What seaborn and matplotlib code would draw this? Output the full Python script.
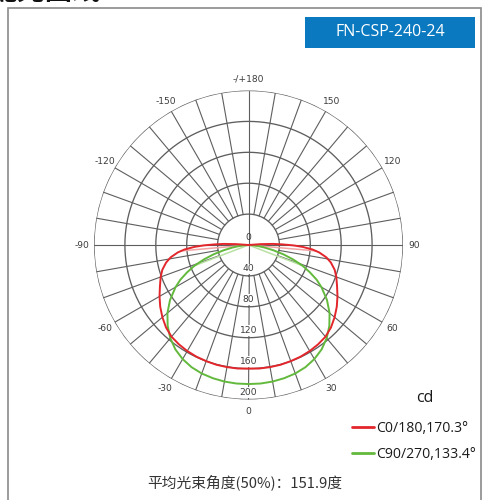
import numpy as np
import matplotlib
matplotlib.use("Agg")
import matplotlib.pyplot as plt
import seaborn as sns
from matplotlib.patches import Rectangle

# Luminous intensity distribution (gamma angle from nadir in degrees, intensity in cd)
c0_gamma = [0, 5, 10, 15, 20, 25, 30, 35, 40, 45, 50, 55, 60, 65, 70, 74, 78,
            81, 84, 86, 88, 89.5, 91, 92.5, 94, 95]
c0_cd = [160, 160.5, 160.5, 160.5, 160, 159.5, 158.5, 157, 155, 151, 145.5,
         139.5, 133, 126.5, 121, 116, 109, 102, 92, 83, 70, 58, 44, 32, 16, 0]

c90_gamma = [0, 5, 10, 15, 20, 25, 30, 35, 40, 45, 50, 55, 60, 63, 66, 69, 72,
             75, 78, 81, 84, 87, 90]
c90_cd = [180, 180, 179.5, 178.5, 177, 174.5, 170.5, 165, 157.5, 148, 137, 124,
          109, 99, 87, 75, 61, 47, 33, 21, 12, 5, 0]

# gamma angles where the opposite half-planes drop out
c0_cut = 85
c90_cut = 69

series_labels = ["C0/180,170.3°", "C90/270,133.4°"]
ring_values = [40, 80, 120, 160, 200]
angle_ticks = [0, 30, 60, 90, 120, 150, 180, -150, -120, -90, -60, -30]
angle_tick_labels = ["0", "30", "60", "90", "120", "150", "-/+180",
                     "-150", "-120", "-90", "-60", "-30"]

model_name = "FN-CSP-240-24"
beam_text = "平均光束角度(50%)：151.9度"
heading = "配光曲线"

RED = "#e3262b"
GREEN = "#62b93c"
PINK = "#f2a3a3"
LIGHT_GREEN = "#b9e1a3"
GRID = "#5e5e5e"

sns.set_theme(style="white")
plt.rcParams["font.family"] = ["Open Sans", "Noto Sans CJK SC", "DejaVu Sans"]

W, H = 483, 500
fig = plt.figure(figsize=(W / 100, H / 100), dpi=100)
fig.patch.set_facecolor("white")

# polar axes: centre at (248.5, 245) px, radius 154.5 px
cx, cy, rad = 248.5, 245.0, 154.5
ax = fig.add_axes([(cx - rad) / W, 1 - (cy + rad) / H, 2 * rad / W, 2 * rad / H],
                  projection="polar")
ax.set_theta_zero_location("S")
ax.set_theta_direction(1)
ax.set_ylim(0, ring_values[-1])
ax.grid(False)
ax.set_xticks([])
ax.set_yticks([])
ax.spines["polar"].set_visible(False)
ax.set_facecolor("none")

# rings
full = np.linspace(0, 2 * np.pi, 721)
for rv in ring_values:
    ax.plot(full, np.full_like(full, rv), color=GRID, lw=0.95, zorder=1)

# spokes every 10 degrees, from the first ring outwards
for a in range(0, 360, 10):
    t = np.deg2rad(a)
    r0 = 0 if a % 90 == 0 else ring_values[0]
    ax.plot([t, t], [r0, ring_values[-1]], color=GRID, lw=0.8, zorder=1)

# angle labels
for a, lab in zip(angle_ticks, angle_tick_labels):
    ax.text(np.deg2rad(a), 215, lab, ha="center", va="center", fontsize=6.6,
            color="#3c3c3c", family="DejaVu Sans", clip_on=False)

# intensity labels along the nadir axis
for rv in [0] + ring_values:
    if rv == 0:
        ax.text(np.pi, 10, "0", ha="center", va="center", fontsize=6.6,
                color="#3c3c3c", family="DejaVu Sans", zorder=4)
    else:
        ax.text(0, rv - 9, str(rv), ha="center", va="center", fontsize=6.6,
                color="#3c3c3c", family="DejaVu Sans", zorder=4,
                bbox=dict(boxstyle="square,pad=0.1", fc="white", ec="none"))


def mirrored(gamma, cd):
    g = np.asarray(gamma, float)
    v = np.asarray(cd, float)
    theta = np.deg2rad(np.concatenate([-g[::-1], g[1:]]))
    r = np.concatenate([v[::-1], v[1:]])
    return theta, r


# radial drop-out lines of the opposite half-planes
for gamma, cd, cut, col in [(c0_gamma, c0_cd, c0_cut, PINK),
                            (c90_gamma, c90_cd, c90_cut, LIGHT_GREEN)]:
    rc = float(np.interp(cut, gamma, cd))
    for s in (-1, 1):
        t = np.deg2rad(s * cut)
        sns.lineplot(x=[t, t], y=[0, rc], ax=ax, sort=False, estimator=None,
                     color=col, lw=1.1, zorder=2, legend=False)

t0, r0 = mirrored(c0_gamma, c0_cd)
t90, r90 = mirrored(c90_gamma, c90_cd)
sns.lineplot(x=t90, y=r90, ax=ax, sort=False, estimator=None, color=GREEN,
             lw=1.4, zorder=3, label=series_labels[1])
sns.lineplot(x=t0, y=r0, ax=ax, sort=False, estimator=None, color=RED,
             lw=1.4, zorder=3, label=series_labels[0])
ax.set_xlabel("")
ax.set_ylabel("")
ax.set_xticks([])
ax.set_yticks([])

handles, labels = ax.get_legend_handles_labels()
order = [labels.index(series_labels[0]), labels.index(series_labels[1])]
ax.get_legend().remove()
leg = fig.legend([handles[i] for i in order], [labels[i] for i in order],
                 loc="upper left", bbox_to_anchor=(346 / W, 1 - 415 / H),
                 frameon=False, fontsize=10.1, handlelength=1.6,
                 handletextpad=0.15, labelspacing=0.8, borderaxespad=0)
for ln in leg.get_lines():
    ln.set_linewidth(2.0)
for tx in leg.get_texts():
    tx.set_color("#1a1a1a")

fig.text(425 / W, 1 - 398 / H, "cd", ha="center", va="center", fontsize=11.5,
         color="#1a1a1a")

# bottom caption
fig.text(245 / W, 1 - 482 / H, beam_text, ha="center", va="center",
         fontsize=10.6, color="#333333",
         family=["Noto Sans CJK SC", "DejaVu Sans"])

# model badge
fig.add_artist(Rectangle((305 / W, 1 - 48 / H), 170 / W, 31 / H,
                         transform=fig.transFigure, fc="#0a79c0", ec="none"))
fig.text(390 / W, 1 - 32.5 / H, model_name, ha="center", va="center",
         fontsize=11.5, color="white")

# page frame
fig.add_artist(Rectangle((8 / W, -0.05), (481 - 8) / W, 1.05 - 8 / H,
                         transform=fig.transFigure, fill=False,
                         ec="#8a8a8a", lw=1.2))

# section heading clipped by the top edge
fig.text(-10 / W, 1 - 6 / H, heading, ha="left", va="bottom", fontsize=20,
         fontweight="bold", color="#111111",
         family=["Noto Sans CJK SC", "DejaVu Sans"])

fig.savefig("out.png", dpi=100, facecolor="white")
